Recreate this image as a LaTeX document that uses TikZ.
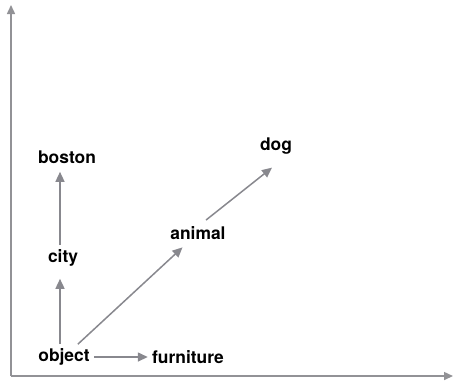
\documentclass[tikz,border=0pt]{standalone}
\usepackage{fontspec}
\setmainfont{TeX Gyre Heros}
\usetikzlibrary{arrows.meta}
\definecolor{edgegray}{RGB}{136,136,142}
\definecolor{axisgray}{RGB}{146,146,150}
\begin{document}
\begin{tikzpicture}[x = 0.5pt, y = -0.5pt,
		word/.style = {font = \fontsize{8.7}{10}\selectfont\bfseries, inner sep = 2pt},
		link/.style = {draw = edgegray, line width = 0.75pt, -{Triangle[length = 5pt, width = 4.5pt]}},
		axis/.style = {draw = axisgray, line width = 0.75pt, -{Triangle[length = 4.5pt, width = 4pt]}}]
		\useasboundingbox (0, 0) rectangle (453, 382);
		%%%%%%%%%%%%%
		\coordinate (origin) at (11, 376);
		\coordinate (ytop) at (11, 5);
		\coordinate (xend) at (453, 376);
		\draw [axis] (origin) to (ytop);
		\draw [axis] (origin) to (xend);
		%%%%%%%%%%%%%
		\node [word] (object) at (64, 357) {object};
		\node [word] (furniture) at (188, 357) {furniture};
		\node [word] (city) at (63, 258) {city};
		\node [word] (boston) at (67, 157) {boston};
		\node [word] (animal) at (198, 233) {animal};
		\node [word] (dog) at (276, 146) {dog};
		%%%%%%%%%%%%%
		\draw [link] (object) to (furniture);
		\draw [link] ([xshift = -2pt]object.north) to ([xshift = -1.5pt, yshift = -4pt]city.south);
		\draw [link] ([xshift = -1.5pt]city.north) to ([xshift = -3.5pt, yshift = -2pt]boston.south);
		\draw [link, shorten >= 2.5pt] (object) to (animal);
		\draw [link] ([xshift = 4pt, yshift = 1pt]animal.north) to ([xshift = -2pt, yshift = -4.5pt]dog.south);
\end{tikzpicture}
\end{document}
